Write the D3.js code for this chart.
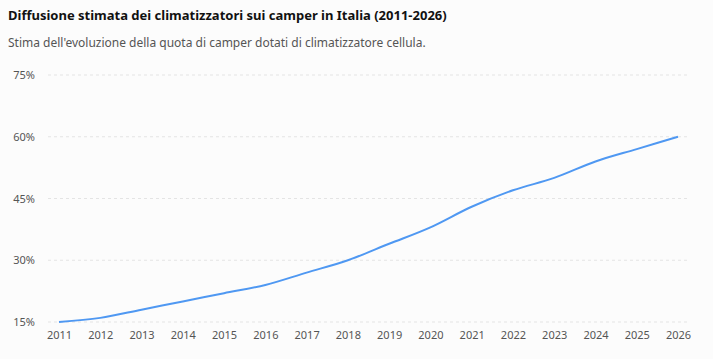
<!DOCTYPE html>
<html><head><meta charset="utf-8">
<script src="https://cdn.jsdelivr.net/npm/d3@7"></script>
<style>
html,body{margin:0;padding:0;background:#fcfcfc;}
svg{display:block;font-family:"Noto Sans","Open Sans",sans-serif;}
</style></head>
<body>
<svg id="c" width="713" height="359"></svg>
<script>
const years = [2011,2012,2013,2014,2015,2016,2017,2018,2019,2020,2021,2022,2023,2024,2025,2026];
const share = [15,16,18,20,22,24,27,30,34,38,43,47,50,54,57,60];
const yTicks = [15,30,45,60,75];
const title = "Diffusione stimata dei climatizzatori sui camper in Italia (2011-2026)";
const subtitle = "Stima dell'evoluzione della quota di camper dotati di climatizzatore cellula.";

const svg = d3.select("#c");
svg.append("rect").attr("width",713).attr("height",359).attr("fill","#fcfcfc");
svg.append("text").attr("x",8).attr("y",20).attr("font-size",13).attr("font-weight","bold").attr("fill","#111").text(title);
svg.append("text").attr("x",8).attr("y",47).attr("font-size",12).attr("fill","#555").text(subtitle);

const x = d3.scalePoint().domain(years).range([59,678]);
const y = d3.scaleLinear().domain([15,75]).range([322,75]);

const g = svg.append("g");
g.selectAll("line.grid").data(yTicks).join("line")
  .attr("x1",48).attr("x2",689)
  .attr("y1",d=>y(d)).attr("y2",d=>y(d))
  .attr("stroke","#e4e4e4").attr("stroke-dasharray","3,3");

const ya = g.append("g").attr("transform","translate(38,0)")
  .call(d3.axisLeft(y).tickValues(yTicks).tickFormat(d=>d+"%").tickSize(0));
ya.select(".domain").remove();
ya.selectAll("text").attr("font-size",11).attr("fill","#555").attr("font-family","Noto Sans, Open Sans, sans-serif");

const xa = g.append("g").attr("transform","translate(0,328)")
  .call(d3.axisBottom(x).tickFormat(d=>d).tickSize(0));
xa.select(".domain").remove();
xa.selectAll("text").attr("font-size",11).attr("fill","#555").attr("font-family","Noto Sans, Open Sans, sans-serif");

const line = d3.line().x((d,i)=>x(years[i])).y(d=>y(d)).curve(d3.curveMonotoneX);
g.append("path").datum(share).attr("d",line).attr("fill","none").attr("stroke","#4f98f2").attr("stroke-width",2);
</script>
</body></html>
